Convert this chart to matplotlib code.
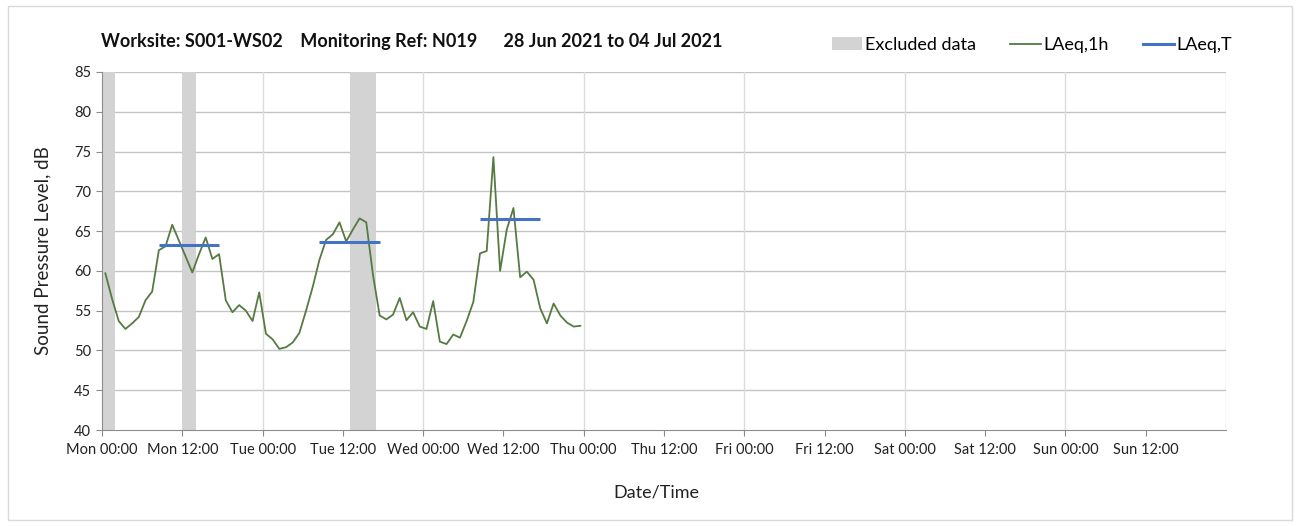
import matplotlib
matplotlib.use("Agg")
import matplotlib.pyplot as plt
from matplotlib.patches import Patch, Rectangle
from matplotlib.lines import Line2D

plt.rcParams['font.family'] = ['Lato', 'DejaVu Sans']

# ---- data ----
# hourly LAeq,1h values, hour index from Mon 00:00 (plotted at mid-hour)
laeq_1h = [59.7, 56.5, 53.7, 52.7, 53.4, 54.2, 56.3, 57.4, 62.6, 63.1,
           65.8, 63.8, 61.8, 59.8, 62.1, 64.2, 61.5, 62.1, 56.3, 54.8,
           55.7, 55.0, 53.7, 57.3, 52.1, 51.4, 50.2, 50.4, 51.0, 52.2,
           55.0, 58.0, 61.4, 63.9, 64.6, 66.1, 63.7, 65.2, 66.6, 66.1,
           59.5, 54.4, 53.9, 54.5, 56.6, 53.8, 54.8, 53.0, 52.7, 56.2,
           51.1, 50.8, 52.0, 51.6, 53.7, 56.1, 62.2, 62.5, 74.3, 60.0,
           65.2, 67.9, 59.2, 59.9, 58.9, 55.3, 53.4, 55.9, 54.4, 53.5,
           53.0, 53.1]

# LAeq,T daytime periods (start hour, end hour, level)
period_start = [8, 32, 56]
period_end = [18, 42, 66]
laeq_t = [63.3, 63.6, 66.5]

# excluded data spans (start hour, end hour)
excl_start = [0, 12, 37]
excl_end = [2, 14, 41]

days = ['Mon', 'Tue', 'Wed', 'Thu', 'Fri', 'Sat', 'Sun']
times = ['00:00', '12:00']
tick_labels = [f"{d} {t}" for d in days for t in times]

title_text = "Worksite: S001-WS02    Monitoring Ref: N019      28 Jun 2021 to 04 Jul 2021"

# ---- figure ----
fig = plt.figure(figsize=(13.01, 5.26), dpi=100)
ax = fig.add_axes([102/1301, 1-430/526, 1124/1301, 358/526])

green = '#557a42'
blue = '#4472c4'
grey = '#d3d3d3'

for s, e in zip(excl_start, excl_end):
    ax.axvspan(s, e, color=grey, lw=0, zorder=1)

hours = [h + 0.5 for h in range(len(laeq_1h))]
ax.plot(hours, laeq_1h, color=green, lw=1.3, zorder=3)

for s, e, v in zip(period_start, period_end, laeq_t):
    ax.plot([s + 0.5, e - 0.5], [v, v], color=blue, lw=2.2, zorder=4,
            solid_capstyle='butt')

ax.set_xlim(0, 168)
ax.set_ylim(40, 85)
ax.set_yticks(range(40, 86, 5))
ax.set_xticks([12 * i for i in range(len(tick_labels))])
ax.set_xticklabels(tick_labels)

ax.grid(False)
for y in range(45, 86, 5):
    ax.axhline(y, color='#c4c4c4', lw=1, zorder=0.5)
for x in range(24, 169, 24):
    ax.axvline(x, color='#dcdcdc', lw=1, zorder=0.5)

for side in ['top', 'right']:
    ax.spines[side].set_visible(False)
ax.spines['left'].set_color('#8c8c8c')
ax.spines['bottom'].set_color('#8c8c8c')
ax.tick_params(axis='both', which='major', direction='out', length=4,
               color='#8c8c8c', labelcolor='#222222')
ax.tick_params(axis='x', labelsize=10.5, pad=5)
ax.tick_params(axis='y', labelsize=10.5, pad=4)

ax.set_ylabel("Sound Pressure Level, dB", fontsize=13.5, color='#222222', labelpad=16)
fig.text(656/1301, 1-492/526, "Date/Time", fontsize=13, color='#222222',
         ha='center', va='center')

fig.text(101/1301, 1-42/526, title_text, fontsize=13, fontweight='bold',
         color='#111111', ha='left', va='center')

handles = [Patch(facecolor=grey, edgecolor='none'),
           Line2D([0], [0], color=green, lw=1.3),
           Line2D([0], [0], color=blue, lw=2.2)]
fig.legend(handles, ["Excluded data", "LAeq,1h", "LAeq,T"], ncol=3,
           frameon=False, fontsize=13, loc='center', bbox_to_anchor=(1032/1301, 1-45/526),
           handlelength=1.7, handletextpad=0.15, columnspacing=1.9)

fig.patches.append(Rectangle((8/1301, 6/526), 1284/1301, 514/526, transform=fig.transFigure,
                             fill=False, edgecolor='#d9d9d9', lw=1))

fig.savefig("out.png", dpi=100)
